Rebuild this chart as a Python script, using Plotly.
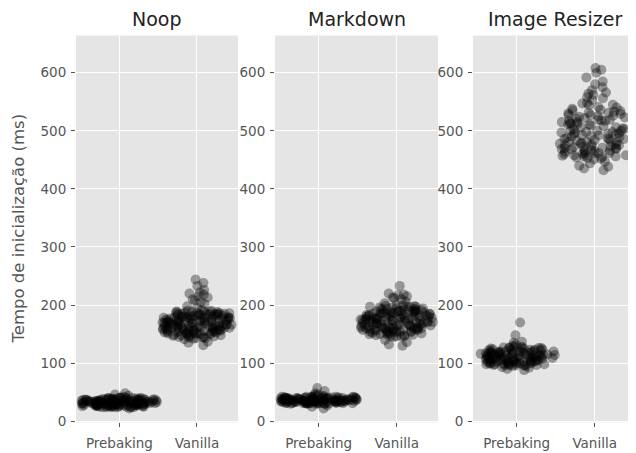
import plotly.graph_objects as go

panels = ["Noop", "Markdown", "Image Resizer"]
categories = ["Prebaking", "Vanilla"]
y_ticks = [0, 100, 200, 300, 400, 500, 600]
y_title = "Tempo de inicialização (ms)"

noop_prebaking = [31,27,36,24,39,33,29,38,26,34,30,40,28,35,32,37,25,
                  34,38,26,31,29,36,40,27,33,24,37,30,35,28,39,32,25,
                  28,33,39,30,36,26,32,24,38,31,35,27,40,34,29,37,25,
                  37,30,24,34,28,39,27,35,31,40,26,33,29,36,32,38,25,
                  26,35,32,38,40,29,34,31,24,37,28,36,33,27,39,30,25,
                  39,29,34,27,33,31,37,28,36,30,38,24,32,40,26,35,25,
                  30,34,27,37,32,29,35,31,38,28,33,36,26,31,34,29,32,37,30,35,28,33,36,31,
                  42,44,46,48,22,41]
noop_vanilla = [165,148,182,157,173,141,188,160,176,152,169,185,144,179,163,171,155,190,
                150,174,162,187,146,168,181,158,177,143,184,166,153,172,189,161,178,147,
                183,156,170,142,186,164,151,175,159,180,145,167,191,154,173,149,162,185,
                158,179,145,166,188,152,174,161,183,148,170,157,187,144,176,163,181,150,
                171,143,184,160,149,177,165,190,155,168,182,146,175,159,186,153,164,178,
                168,155,180,162,174,151,186,159,171,165,183,153,177,161,188,157,170,179,
                163,150,175,184,158,167,181,154,172,160,187,166,152,178,169,185,156,173,
                176,160,189,152,170,164,182,158,174,150,167,185,161,179,155,171,163,180,
                195,198,202,205,208,210,213,215,218,220,222,226,233,238,244,135,137,131]
markdown_prebaking = [36,31,40,33,38,30,42,35,32,39,34,41,37,
                      33,39,30,37,42,35,31,40,36,32,38,34,41,
                      40,34,37,31,35,41,33,38,30,36,42,32,39,
                      31,38,35,42,32,37,40,34,39,33,30,41,36,
                      38,32,41,36,30,34,39,31,37,42,35,33,40,
                      35,42,33,39,37,31,36,41,34,30,38,40,32,
                      41,37,32,34,40,36,30,33,42,38,31,35,39,
                      35,38,33,40,36,32,37,34,39,31,36,38,33,35,41,34,37,32,36,39,
                      44,46,48,52,57,27,25,22,43,45]
markdown_vanilla = [172,151,190,163,181,147,197,168,158,185,175,154,193,161,179,149,187,166,
                    156,183,170,199,145,177,160,189,152,174,195,164,181,148,169,186,158,192,
                    188,162,176,150,196,167,155,182,171,146,191,159,178,165,200,153,184,173,
                    160,194,148,179,168,186,157,171,198,151,183,164,176,190,146,169,180,155,
                    177,146,185,158,192,173,163,150,188,166,180,154,197,170,161,186,149,175,
                    178,160,192,168,185,155,174,198,163,181,170,157,189,176,165,194,152,183,
                    167,187,158,179,196,171,162,184,153,175,190,166,180,159,199,172,186,164,
                    182,156,175,193,169,161,188,178,154,197,173,166,185,160,191,177,158,170,
                    203,206,210,213,215,218,220,217,212,233,140,136,132,130]
resizer_prebaking = [110,98,122,105,117,101,126,108,114,96,120,103,112,124,99,116,107,119,
                     104,121,97,113,125,109,100,118,106,127,95,115,111,102,123,98,117,108,
                     119,103,114,96,126,110,121,99,107,116,128,101,113,124,97,109,118,105,
                     99,115,108,127,102,120,95,112,105,123,110,97,118,104,125,100,114,106,
                     122,107,101,117,96,111,128,103,119,98,113,106,126,109,115,100,121,112,
                     108,115,102,120,111,97,117,106,123,104,113,100,119,109,126,103,114,110,98,121,107,116,
                     130,132,135,137,148,170,92,90,88,93]
resizer_vanilla = [485,462,527,471,503,455,540,492,468,515,478,533,459,498,521,474,547,489,
                   466,509,451,536,482,495,457,524,470,544,487,513,463,500,530,476,453,518,
                   529,475,497,460,541,483,506,452,519,467,491,535,479,511,456,548,472,501,
                   494,538,458,512,477,526,465,503,486,545,461,517,481,531,469,496,523,454,
                   488,470,512,497,462,525,481,504,458,519,475,493,531,466,508,484,500,472,
                   515,461,490,527,478,506,456,522,486,498,469,534,480,511,464,495,517,473,
                   432,435,438,440,444,447,553,558,562,566,570,575,580,585,592,600,605,608,556,564]

groups = [
    (noop_prebaking, noop_vanilla),
    (markdown_prebaking, markdown_vanilla),
    (resizer_prebaking, resizer_vanilla),
]

OFF = 8  # default page body margin
W, H = 636 - OFF, 453 - OFF
x_px = [(76, 238), (275, 438), (473, 636)]
y_top, y_bot = 36, 429


def fx(px):
    return (px - OFF) / W


def fy(py):
    return (H - (py - OFF)) / H


FONT = "DejaVu Sans"
TICK_FONT = dict(family=FONT, size=13.5, color="#555")
fig = go.Figure()

for i, (pre, van) in enumerate(groups):
    ax = "" if i == 0 else str(i + 1)
    for cat, vals in zip(categories, (pre, van)):
        fig.add_trace(go.Box(
            x=[cat] * len(vals), y=vals,
            xaxis="x" + ax, yaxis="y" + ax,
            boxpoints="all", jitter=1, pointpos=0, width=0.98,
            fillcolor="rgba(0,0,0,0)", line=dict(color="rgba(0,0,0,0)", width=0),
            marker=dict(color="rgba(0,0,0,0.35)", size=10, line=dict(width=0)),
            showlegend=False, name=cat,
        ))
    xd = [fx(x_px[i][0]), fx(x_px[i][1])]
    yd = [fy(y_bot), fy(y_top)]
    fig.layout["xaxis" + ax] = dict(
        domain=xd, anchor="y" + ax, type="category",
        categoryorder="array", categoryarray=categories,
        range=[-0.56, 1.53], showgrid=True, gridcolor="white", gridwidth=1.2,
        zeroline=False, ticks="outside", ticklen=4, tickcolor="#555",
        tickfont=TICK_FONT, showline=False, ticklabelstandoff=4,
    )
    fig.layout["yaxis" + ax] = dict(
        domain=yd, anchor="x" + ax, range=[-2, 664],
        tickvals=y_ticks, showgrid=True, gridcolor="white", gridwidth=1.2,
        zeroline=False, ticks="outside", ticklen=4, tickcolor="#555",
        tickfont=TICK_FONT, showline=False, ticklabelstandoff=2,
    )
    fig.add_annotation(
        text=panels[i], x=(xd[0] + xd[1]) / 2, y=fy(19),
        xref="paper", yref="paper", showarrow=False,
        font=dict(family=FONT, size=19, color="#222"),
        xanchor="center", yanchor="middle",
    )

fig.add_annotation(
    text=y_title, x=fx(18), y=fy(232), xref="paper", yref="paper",
    showarrow=False, textangle=-90, xanchor="center", yanchor="middle",
    font=dict(family=FONT, size=16.5, color="#555"),
)

fig.update_layout(
    width=W, height=H, margin=dict(l=0, r=0, t=0, b=0),
    paper_bgcolor="white", plot_bgcolor="#e5e5e5",
    boxgap=0, boxgroupgap=0,
    font=dict(family=FONT),
)

fig.write_html("out.html")
